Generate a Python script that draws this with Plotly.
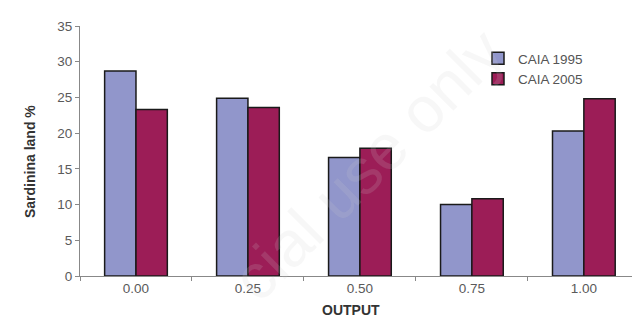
import plotly.graph_objects as go

categories = ["0.00", "0.25", "0.50", "0.75", "1.00"]
caia_1995 = [28.7, 24.9, 16.6, 10.0, 20.3]
caia_2005 = [23.3, 23.6, 17.9, 10.8, 24.8]
y_ticks = [0, 5, 10, 15, 20, 25, 30, 35]

fig = go.Figure()
fig.add_trace(go.Bar(x=categories, y=caia_1995, name="CAIA 1995",
                     marker=dict(color="#9196CB", line=dict(color="#1a1a1a", width=1.5))))
fig.add_trace(go.Bar(x=categories, y=caia_2005, name="CAIA 2005",
                     marker=dict(color="#9C1D57", line=dict(color="#1a1a1a", width=1.5))))

W, H = 632, 329
L, R, T, B = 80, 0, 26, 53
pw, ph = W - L - R, H - T - B

fig.update_layout(
    width=W, height=H,
    margin=dict(l=L, r=R, t=T, b=B),
    paper_bgcolor="white", plot_bgcolor="white",
    barmode="group", bargap=0.44, bargroupgap=0,
    font=dict(family="Arial, Liberation Sans, sans-serif", size=13, color="#5a5a5a"),
    showlegend=True,
    legend=dict(x=(478 - L) / pw, y=(H - B - 43) / ph, xanchor="left", yanchor="top",
                bgcolor="rgba(0,0,0,0)", font=dict(size=13.5, color="#555555"),
                itemwidth=30),
    xaxis=dict(type="category", range=[-0.5, 4.43], showline=True, linecolor="#888888",
               linewidth=1, ticks="outside", tickson="boundaries", ticklen=4,
               tickcolor="#888888", showgrid=False, automargin=False,
               tickfont=dict(size=13.5, color="#5a5a5a")),
    yaxis=dict(range=[0, 35], tickvals=y_ticks, showline=True, linecolor="#888888",
               linewidth=1, ticks="outside", ticklen=4, tickcolor="#888888",
               showgrid=False, zeroline=False, automargin=False,
               tickfont=dict(size=13.5, color="#5a5a5a")),
)


def px_ann(text, x, y, **kw):
    return dict(text=text, xref="paper", yref="paper", x=(x - L) / pw, y=(H - B - y) / ph,
                showarrow=False, **kw)


fig.update_layout(annotations=[
    px_ann("cial use only", 215, 165, textangle=-45,
           font=dict(size=64, color="rgba(205,205,205,0.16)")),
    px_ann("<b>Sardinina land %</b>", 20, 162, textangle=-90,
           font=dict(size=14, color="#333333")),
    px_ann("<b>OUTPUT</b>", 351, 320, font=dict(size=14, color="#333333")),
])

fig.write_html("out.html", config={"displayModeBar": False},
               post_script="document.body.style.margin='0';document.body.style.overflow='hidden';")
